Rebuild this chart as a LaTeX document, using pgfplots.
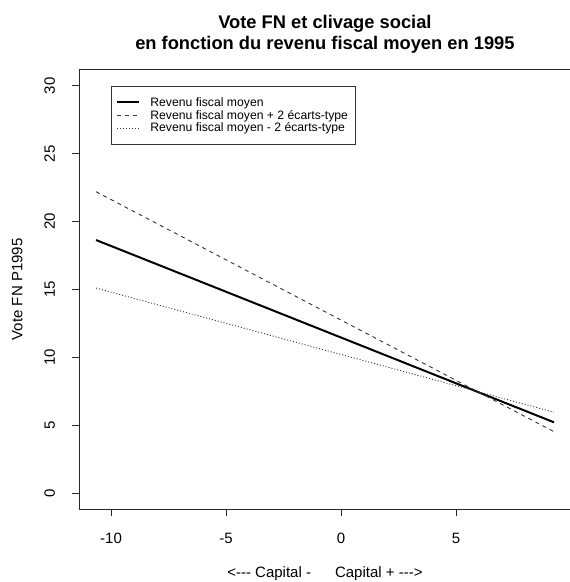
\documentclass[border=0pt]{standalone}
\usepackage{pgfplots}
\pgfplotsset{compat=1.18}
\usepackage{fontspec}
\setmainfont{Liberation Sans}

\begin{document}
\begin{tikzpicture}
\begin{axis}[
    scale only axis,
    width=491.7pt, height=439.7pt,
    xmin=-11.39, xmax=9.99, ymin=-1.2, ymax=31.2,
    xtick={-10,-5,0,5}, ytick={0,5,10,15,20,25,30},
    tick pos=left, tick align=outside,
    major tick length=7pt,
    axis line style={black!85, line width=0.8pt},
    tick style={black!85, line width=0.8pt},
    /pgf/number format/assume math mode=true,
    ticklabel style={font=\fontsize{15}{17}\selectfont},
    yticklabel style={rotate=90, anchor=south},
    xticklabel shift=13pt,
    yticklabel shift=13.5pt,
    title={\textbf{Vote FN et clivage social}\\\textbf{en fonction du revenu fiscal moyen en 1995}},
    title style={font=\fontsize{18.3}{21}\selectfont, align=center,
        at={(axis description cs:0.5,1.066)}, anchor=center},
    xlabel={<-{}-{}- Capital -\hspace{24pt}Capital + -{}-{}->},
    xlabel style={font=\fontsize{15}{17}\selectfont,
        at={(axis description cs:0.5,-0.1456)}, anchor=center},
    ylabel={Vote FN P1995},
    ylabel style={font=\fontsize{15}{17}\selectfont,
        at={(axis description cs:-0.126,0.5)}, anchor=center, rotate=0},
    legend style={at={(axis cs:-10,30)}, anchor=north west,
        font=\fontsize{12.2}{13}\selectfont, draw=black!80, line width=0.6pt,
        inner xsep=5pt, inner ysep=10pt, row sep=0.5pt,
        nodes={inner ysep=1pt},
        /tikz/every odd column/.append style={column sep=8pt}},
    legend cell align=left,
    legend image code/.code={\draw[#1] (0pt,0pt) -- (22pt,0pt);},
]
\addplot[black, line width=2pt] coordinates {(-10.65,18.64) (9.26,5.21)};
\addlegendentry{Revenu fiscal moyen}
\addplot[black!80, line width=0.9pt, dash pattern=on 4pt off 4pt] coordinates {(-10.65,22.2) (9.26,4.52)};
\addlegendentry{Revenu fiscal moyen + 2 écarts-type}
\addplot[black!80, line width=0.9pt, dash pattern=on 1pt off 2pt] coordinates {(-10.65,15.1) (9.26,5.95)};
\addlegendentry{Revenu fiscal moyen - 2 écarts-type}
\coordinate (bl) at (axis cs:-14.83,-6.56);
\coordinate (tr) at (axis cs:9.957,36.33);
\end{axis}
\pgfresetboundingbox
\useasboundingbox (bl) rectangle (tr);
\end{tikzpicture}
\end{document}
